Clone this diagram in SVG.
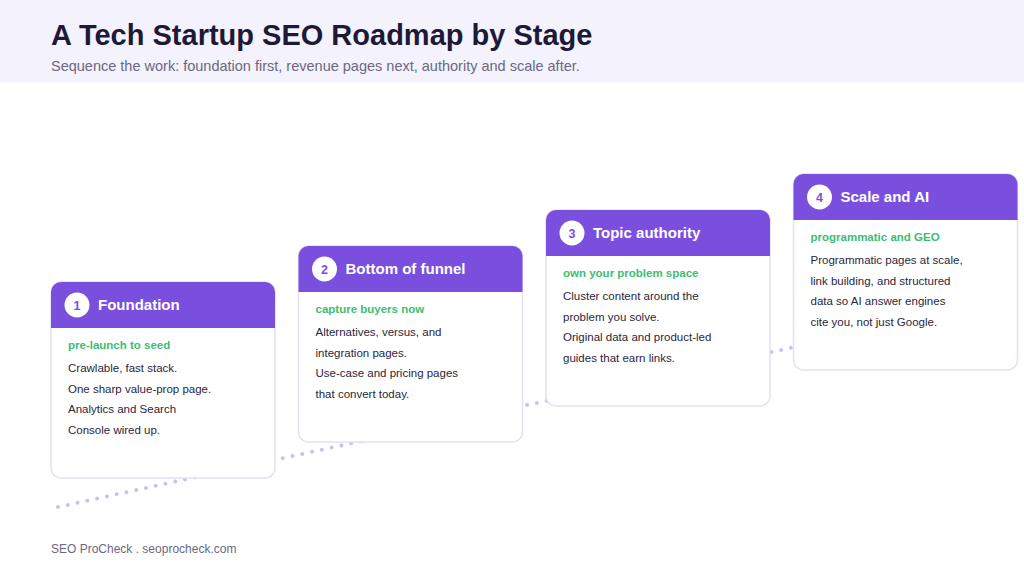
<svg xmlns="http://www.w3.org/2000/svg" width="1024" height="576" viewBox="0 0 1024 576">
<style>
.title{font-family:"Liberation Sans",Arial,sans-serif;font-size:29px;font-weight:bold;fill:#1d1936}
.sub{font-family:"Liberation Sans",Arial,sans-serif;font-size:14.5px;fill:#6b6880}
.card{fill:#ffffff;stroke:#e5e0f5;stroke-width:1.5}
.hdr{fill:#7b4fde}
.num{fill:#ffffff}
.numt{font-family:"Liberation Sans",Arial,sans-serif;font-size:12.5px;font-weight:bold;fill:#7b4fde;text-anchor:middle}
.ct{font-family:"Liberation Sans",Arial,sans-serif;font-size:15px;font-weight:bold;fill:#ffffff}
.tag{font-family:"Liberation Sans",Arial,sans-serif;font-size:11.5px;font-weight:bold;fill:#3dbd74}
.body{font-family:"Liberation Sans",Arial,sans-serif;font-size:11.5px;fill:#2a2640}
.foot{font-family:"Liberation Sans",Arial,sans-serif;font-size:12px;fill:#6b6880}
.path{fill:none;stroke:#cbbff2;stroke-width:4;stroke-linecap:round;stroke-dasharray:0 10}
</style>
<rect x="0" y="0" width="1024" height="82" fill="#f4f2fd"/>
<text class="title" x="51" y="45">A Tech Startup SEO Roadmap by Stage</text>
<text class="sub" x="51" y="71">Sequence the work: foundation first, revenue pages next, authority and scale after.</text>
<g id="connectors">
<line class="path" x1="58" y1="507" x2="905" y2="323"/>
</g>
<g id="node1">
<rect class="card" x="51" y="282" width="224" height="196" rx="10"/>
<path class="hdr" d="M51,328 V292 A10,10 0 0 1 61,282 H265 A10,10 0 0 1 275,292 V328 Z"/>
<circle class="num" cx="77" cy="305" r="12.5"/>
<text class="numt" x="77" y="309.5">1</text>
<text class="ct" x="98" y="310">Foundation</text>
<text class="tag" x="68" y="349">pre-launch to seed</text>
<text class="body" x="68" y="372">Crawlable, fast stack.</text>
<text class="body" x="68" y="392.5">One sharp value-prop page.</text>
<text class="body" x="68" y="413">Analytics and Search</text>
<text class="body" x="68" y="433.5">Console wired up.</text>
</g>
<g id="node2">
<rect class="card" x="298.5" y="246" width="224" height="196" rx="10"/>
<path class="hdr" d="M298.5,292 V256 A10,10 0 0 1 308.5,246 H512.5 A10,10 0 0 1 522.5,256 V292 Z"/>
<circle class="num" cx="324.5" cy="269" r="12.5"/>
<text class="numt" x="324.5" y="273.5">2</text>
<text class="ct" x="345.5" y="274">Bottom of funnel</text>
<text class="tag" x="315.5" y="313">capture buyers now</text>
<text class="body" x="315.5" y="336">Alternatives, versus, and</text>
<text class="body" x="315.5" y="356.5">integration pages.</text>
<text class="body" x="315.5" y="377">Use-case and pricing pages</text>
<text class="body" x="315.5" y="397.5">that convert today.</text>
</g>
<g id="node3">
<rect class="card" x="546" y="210" width="224" height="196" rx="10"/>
<path class="hdr" d="M546,256 V220 A10,10 0 0 1 556,210 H760 A10,10 0 0 1 770,220 V256 Z"/>
<circle class="num" cx="572" cy="233" r="12.5"/>
<text class="numt" x="572" y="237.5">3</text>
<text class="ct" x="593" y="238">Topic authority</text>
<text class="tag" x="563" y="277">own your problem space</text>
<text class="body" x="563" y="300">Cluster content around the</text>
<text class="body" x="563" y="320.5">problem you solve.</text>
<text class="body" x="563" y="341">Original data and product-led</text>
<text class="body" x="563" y="361.5">guides that earn links.</text>
</g>
<g id="node4">
<rect class="card" x="793.5" y="174" width="224" height="196" rx="10"/>
<path class="hdr" d="M793.5,220 V184 A10,10 0 0 1 803.5,174 H1007.5 A10,10 0 0 1 1017.5,184 V220 Z"/>
<circle class="num" cx="819.5" cy="197" r="12.5"/>
<text class="numt" x="819.5" y="201.5">4</text>
<text class="ct" x="840.5" y="202">Scale and AI</text>
<text class="tag" x="810.5" y="241">programmatic and GEO</text>
<text class="body" x="810.5" y="264">Programmatic pages at scale,</text>
<text class="body" x="810.5" y="284.5">link building, and structured</text>
<text class="body" x="810.5" y="305">data so AI answer engines</text>
<text class="body" x="810.5" y="325.5">cite you, not just Google.</text>
</g>
<text class="foot" x="51" y="553">SEO ProCheck . seoprocheck.com</text>
</svg>
